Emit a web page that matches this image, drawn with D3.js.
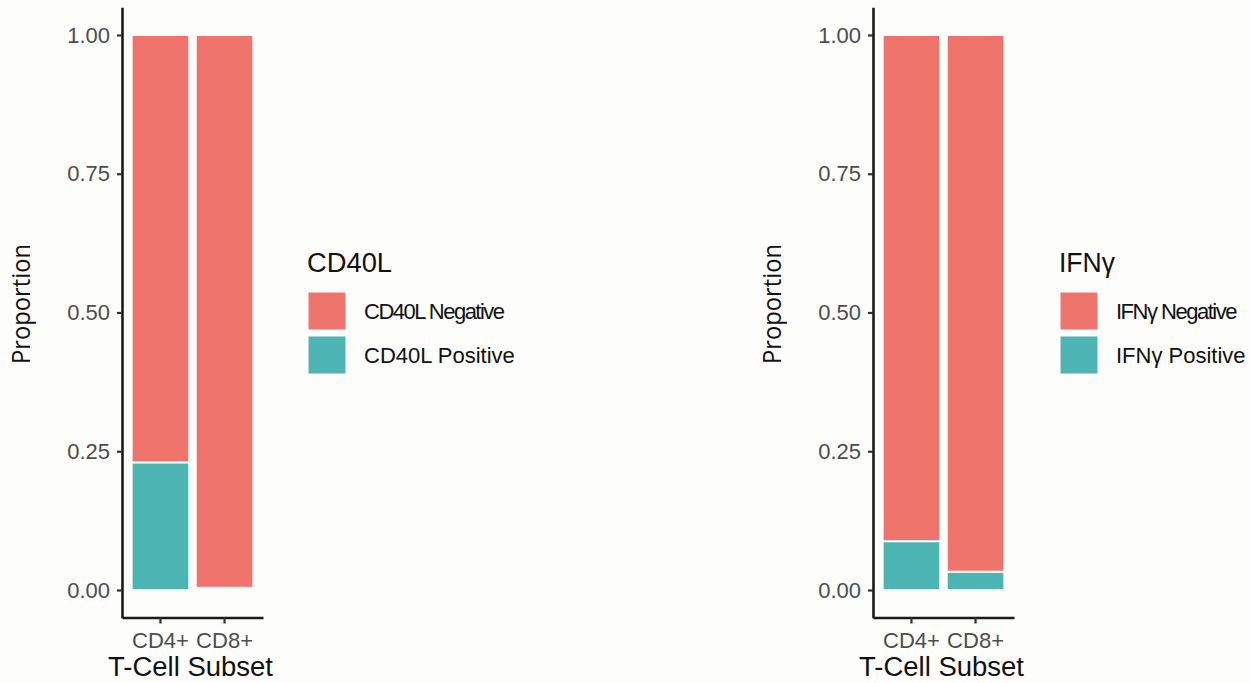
<!DOCTYPE html>
<html>
<head>
<meta charset="utf-8">
<script src="https://cdn.jsdelivr.net/npm/d3@7"></script>
<style>
  html, body { margin: 0; padding: 0; background: #fdfdfc; }
  svg { display: block; font-family: "Liberation Sans", Arial, sans-serif; }
</style>
</head>
<body>
<svg id="chart" width="1250" height="683"></svg>
<script>
// ---- data ----
const subsets = ["CD4+", "CD8+"];
const yTicks = [0, 0.25, 0.5, 0.75, 1];
const cd40lLevels = ["CD40L Negative", "CD40L Positive"];
const cd40lPositive = [0.23, 0.004];
const ifngLevels = ["IFNγ Negative", "IFNγ Positive"];
const ifngPositive = [0.088, 0.033];
const legendTitles = ["CD40L", "IFNγ"];
const xTitle = "T-Cell Subset";
const yTitle = "Proportion";
const colors = ["#EE746C", "#4CB5B4"];

const svg = d3.select("#chart");

function panel(opts) {
  const g = svg.append("g");
  const x = d3.scaleBand().domain(subsets)
    .range([opts.x0, opts.x0 + 141]).paddingInner(0.1).paddingOuter(0.15);
  const y = d3.scaleLinear().domain([-0.05, 1.05]).range([617.75, 7.25]);

  const rows = subsets.map((s, i) => ({ subset: s, pos: opts.positive[i] }));
  const segs = [];
  rows.forEach(r => {
    segs.push({ subset: r.subset, y0: 0, y1: r.pos, c: colors[1] });
    segs.push({ subset: r.subset, y0: r.pos, y1: 1, c: colors[0] });
  });
  g.selectAll("rect.bar").data(segs).join("rect")
    .attr("class", "bar")
    .attr("x", d => x(d.subset))
    .attr("width", x.bandwidth())
    .attr("y", d => y(d.y1))
    .attr("height", d => y(d.y0) - y(d.y1))
    .attr("fill", d => d.c)
    .attr("stroke", "white")
    .attr("stroke-width", 2);

  const ya = g.append("g").attr("transform", `translate(${opts.x0},0)`)
    .call(d3.axisLeft(y).tickValues(yTicks).tickFormat(d3.format(".2f")).tickSize(5).tickSizeOuter(0).tickPadding(7));
  const xa = g.append("g").attr("transform", `translate(0,617.5)`)
    .call(d3.axisBottom(x).tickSize(6).tickSizeOuter(0).tickPadding(9));
  [ya, xa].forEach(a => {
    a.select(".domain").attr("stroke", "#1a1a1a").attr("stroke-width", 2.6);
    a.selectAll(".tick line").attr("stroke", "#333").attr("stroke-width", 2.2);
    a.selectAll(".tick text").attr("fill", "#4d4d4d").style("font-size", "22px")
      .style("font-family", "'Liberation Sans', Arial, sans-serif");
  });

  g.append("text")
    .attr("transform", `translate(${opts.x0 - 92},304) rotate(-90)`)
    .attr("text-anchor", "middle")
    .attr("textLength", 120).attr("lengthAdjust", "spacingAndGlyphs")
    .style("font-family", "'Open Sans', sans-serif")
    .style("font-size", "25px").attr("fill", "#111")
    .text(yTitle);
  g.append("text")
    .attr("x", opts.x0 + 68.5).attr("y", 676)
    .attr("text-anchor", "middle")
    .attr("textLength", 165).attr("lengthAdjust", "spacingAndGlyphs")
    .style("font-size", "27px").attr("fill", "#111")
    .text(xTitle);

  const lg = g.append("g");
  lg.append("text").attr("x", opts.lx - 1).attr("y", 272)
    .attr("textLength", opts.titleW).attr("lengthAdjust", "spacingAndGlyphs")
    .style("font-size", "27px").attr("fill", "#111").text(opts.title);
  opts.levels.forEach((lv, i) => {
    const ky = 292 + i * 44;
    lg.append("rect").attr("x", opts.lx).attr("y", ky).attr("width", 38).attr("height", 38)
      .attr("fill", colors[i]).attr("stroke", "white").attr("stroke-width", 1);
    lg.append("text").attr("x", opts.lx + 56).attr("y", ky + 19 + 8)
      .style("letter-spacing", i === 0 ? "-1.5px" : "0px")
      .style("font-size", "22px").attr("fill", "#111").text(lv);
  });
}

panel({ x0: 122, positive: cd40lPositive, levels: cd40lLevels, title: legendTitles[0],
        lx: 308, titleW: 85 });
panel({ x0: 873, positive: ifngPositive, levels: ifngLevels, title: legendTitles[1],
        lx: 1060, titleW: 56 });
</script>
</body>
</html>
